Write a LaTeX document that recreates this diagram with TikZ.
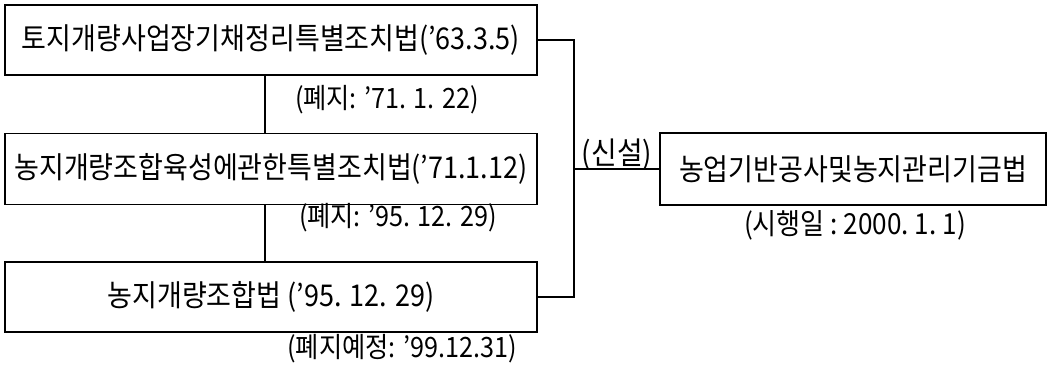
\documentclass[tikz,border=0pt]{standalone}
\usepackage{fontspec}
\setmainfont{Noto Sans CJK KR}[FakeStretch=0.9]
\begin{document}
\begin{tikzpicture}[x=1pt,y=1pt,
  lawbox/.style={draw,line width=1.8pt,rectangle,minimum height=70pt,inner sep=0pt,font=\fontsize{30}{34}\selectfont},
  note/.style={inner sep=0pt,font=\fontsize{28}{32}\selectfont},
  conn/.style={line width=1.6pt}]
\useasboundingbox (0,0) rectangle (1050,-366);
\node[lawbox,minimum width=532pt] (b1) at (271,-40) {토지개량사업장기채정리특별조치법(’63.3.5)};
\node[lawbox,minimum width=532pt,minimum height=71pt] (b2) at (271,-169) {농지개량조합육성에관한특별조치법(’71.1.12)};
\node[lawbox,minimum width=532pt] (b3) at (271,-297) {농지개량조합법 (’95. 12. 29)};
\node[lawbox,minimum width=386pt,minimum height=72pt] (b4) at (853,-169) {농업기반공사및농지관리기금법};
\node[note] (l1) at (387,-100) {(폐지: ’71. 1. 22)};
\node[note] (l2) at (398,-218) {(폐지: ’95. 12. 29)};
\node[note] (l3) at (402,-349) {(폐지예정: ’99.12.31)};
\node[note,font=\fontsize{31}{34}\selectfont] (l4) at (617,-155) {(신설)};
\node[note,font=\fontsize{29}{32}\selectfont] (l5) at (855,-225) {(시행일~:~2000.~1.~1)};
\coordinate (bus) at (574,-169);
\draw[conn] (b1.east) -| (bus) |- (b3.east);
\draw[conn] (bus) -- (b4.west);
\draw[conn] ([xshift=-6pt]b1.south) -- ([xshift=-6pt]b2.north);
\draw[conn] ([xshift=-6pt]b2.south) -- ([xshift=-6pt]b3.north);
\end{tikzpicture}
\end{document}
